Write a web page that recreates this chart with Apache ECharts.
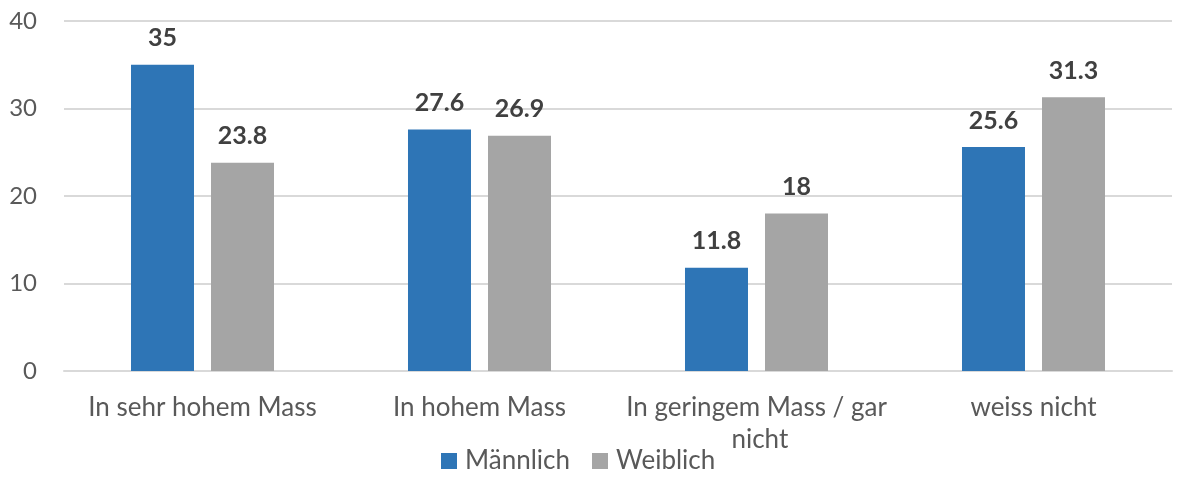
<!DOCTYPE html>
<html>
<head>
<meta charset="utf-8">
<title>Chart</title>
<script src="https://cdn.jsdelivr.net/npm/echarts@6/dist/echarts.min.js"></script>
<style>
  html, body { margin: 0; padding: 0; background: #fff; }
</style>
</head>
<body>
<div id="main" style="width:1177px;height:479px;"></div>
<script type="text/javascript">
    var categories = ['In sehr hohem Mass', 'In hohem Mass', 'In geringem Mass / gar nicht', 'weiss nicht'];
    var maleData = [35, 27.6, 11.8, 25.6];
    var femaleData = [23.8, 26.9, 18, 31.3];
    var seriesNames = ['Männlich', 'Weiblich'];

    var myChart = echarts.init(document.getElementById('main'));
    var font = 'Lato, "Open Sans", sans-serif';

    var labelStyle = {
        show: true,
        position: 'top',
        distance: 14,
        color: '#404040',
        fontSize: 25,
        fontWeight: 'bold',
        fontFamily: font
    };

    var option = {
        animation: false,
        textStyle: { fontFamily: font },
        grid: { left: 64, right: 5, top: 21, bottom: 108 },
        legend: {
            data: seriesNames,
            bottom: 0,
            left: 436,
            itemWidth: 16,
            itemHeight: 16,
            itemGap: 22,
            icon: 'rect',
            textStyle: { color: '#595959', fontSize: 26, fontFamily: font, padding: [0, 0, 0, 3] }
        },
        xAxis: {
            type: 'category',
            data: categories,
            axisLine: { show: true, lineStyle: { color: '#D9D9D9', width: 2 } },
            axisTick: { show: false },
            axisLabel: {
                color: '#595959',
                fontSize: 26,
                fontFamily: font,
                margin: 21,
                interval: 0,
                width: 265,
                overflow: 'break',
                lineHeight: 32
            }
        },
        yAxis: {
            type: 'value',
            min: 0,
            max: 40,
            interval: 10,
            axisLine: { show: false },
            axisTick: { show: false },
            splitLine: { lineStyle: { color: '#D9D9D9', width: 2 } },
            axisLabel: { color: '#595959', fontSize: 24, fontFamily: font, margin: 27 }
        },
        series: [
            {
                name: seriesNames[0],
                type: 'bar',
                data: maleData,
                barWidth: 63,
                barGap: '27%',
                itemStyle: { color: '#2E75B6' },
                label: labelStyle
            },
            {
                name: seriesNames[1],
                type: 'bar',
                data: femaleData,
                barWidth: 63,
                itemStyle: { color: '#A5A5A5' },
                label: labelStyle
            }
        ]
    };

    myChart.setOption(option);
</script>
</body>
</html>
